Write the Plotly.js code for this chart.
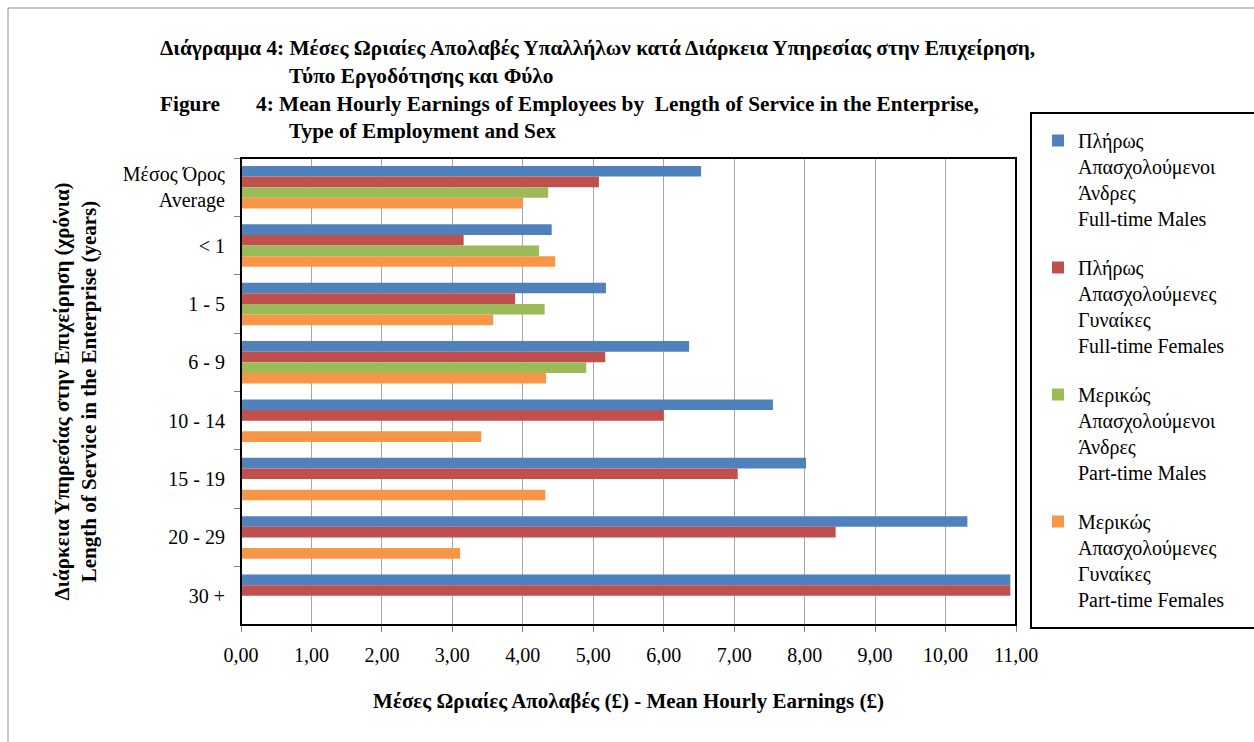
<!DOCTYPE html>
<html>
<head>
<meta charset="utf-8">
<script src="https://cdn.plot.ly/plotly-3.0.1.min.js"></script>
<style>html,body{margin:0;padding:0;background:#fff;}#chart{width:1254px;height:742px;}</style>
</head>
<body>
<div id="chart"></div>
<script>
// Categories (top to bottom)
const categories = ["Μέσος Όρος<br>Average", "< 1", "1 - 5", "6 - 9", "10 - 14", "15 - 19", "20 - 29", "30 +"];

// Series values (mean hourly earnings, £)
const fullTimeMales   = [6.53, 4.41, 5.18, 6.36, 7.55, 8.02, 10.31, 10.92];
const fullTimeFemales = [5.08, 3.16, 3.89, 5.17, 6.00, 7.05, 8.44, 10.92];
const partTimeMales   = [4.36, 4.23, 4.31, 4.90, null, null, null, null];
const partTimeFemales = [4.00, 4.46, 3.58, 4.33, 3.41, 4.32, 3.11, null];

const seriesNames = [
  "Πλήρως<br>Απασχολούμενοι<br>Άνδρες<br>Full-time Males",
  "Πλήρως<br>Απασχολούμενες<br>Γυναίκες<br>Full-time Females",
  "Μερικώς<br>Απασχολούμενοι<br>Άνδρες<br>Part-time Males",
  "Μερικώς<br>Απασχολούμενες<br>Γυναίκες<br>Part-time Females"
];
const seriesValues = [fullTimeMales, fullTimeFemales, partTimeMales, partTimeFemales];
const seriesColors = ["#4F81BD", "#C0504D", "#9BBB59", "#F79646"];

const W = 1254, H = 742;
const L = 241, R = 238, T = 158, B = 117;
const pw = W - L - R, ph = H - T - B;
const px = x => (x - L) / pw;
const py = y => (H - B - y) / ph;

const traces = seriesValues.map((vals, i) => ({
  type: "bar",
  orientation: "h",
  y: categories,
  x: vals,
  name: seriesNames[i],
  legendgroup: "g" + i,
  marker: {color: seriesColors[i], line: {width: 0}},
  hoverinfo: "skip"
}));

const serif = "Liberation Serif, Times New Roman, serif";
const titleFont = {family: serif, size: 21, color: "#000", weight: "bold"};
const mainTitleFont = {family: serif, size: 21.3, color: "#000", weight: "bold"};

const layout = {
  width: W, height: H,
  margin: {l: L, r: R, t: T, b: B, autoexpand: false},
  paper_bgcolor: "#fff",
  plot_bgcolor: "#fff",
  separators: ",.",
  barmode: "group",
  bargap: 0.27,
  bargroupgap: 0,
  font: {family: serif, size: 20, color: "#000"},
  xaxis: {
    range: [0, 11],
    dtick: 1,
    tick0: 0,
    tickformat: ".2f",
    showgrid: true,
    gridcolor: "#A6A6A6",
    gridwidth: 1,
    zeroline: false,
    ticks: "outside",
    ticklen: 6,
    tickcolor: "#808080",
    tickfont: {family: serif, size: 20, color: "#000"},
    ticklabelstandoff: 6,
    showline: false,
    title: {
      text: "Μέσες Ωριαίες Απολαβές (£) - Mean Hourly Earnings (£)",
      font: titleFont,
      standoff: 28
    },
    automargin: false,
    fixedrange: true
  },
  yaxis: {
    type: "category",
    autorange: "reversed",
    ticks: "outside",
    tickson: "boundaries",
    ticklen: 6,
    tickcolor: "#808080",
    showgrid: false,
    zeroline: false,
    showline: false,
    tickfont: {family: serif, size: 20, color: "#000"},
    ticklabelstandoff: 15,
    title: {
      text: "Διάρκεια Υπηρεσίας στην Επιχείρηση (χρόνια)<br>Length of Service in the Enterprise (years)",
      font: titleFont,
      standoff: 20
    },
    automargin: false,
    fixedrange: true
  },
  showlegend: true,
  legend: {
    x: px(1038), y: py(121),
    xanchor: "left", yanchor: "top",
    bgcolor: "rgba(0,0,0,0)",
    borderwidth: 0,
    font: {family: serif, size: 20, color: "#000"},
    valign: "top",
    tracegroupgap: 20,
    traceorder: "grouped",
    maxheight: 700,
    itemclick: false, itemdoubleclick: false
  },
  shapes: [
    // outer chart border
    {type: "rect", xref: "paper", yref: "paper", x0: px(8), x1: px(1262), y0: py(750), y1: py(8),
     line: {color: "#8C8C8C", width: 1}, fillcolor: "rgba(0,0,0,0)", layer: "below"},
    // plot area frame
    {type: "rect", xref: "paper", yref: "paper", x0: 0, x1: 1, y0: 0, y1: 1,
     line: {color: "#000", width: 2}, fillcolor: "rgba(0,0,0,0)"},
    // legend frame
    {type: "rect", xref: "paper", yref: "paper", x0: px(1031), x1: px(1262), y0: py(628), y1: py(113),
     line: {color: "#000", width: 2}, fillcolor: "rgba(0,0,0,0)"}
  ],
  annotations: [
    {text: "Διάγραμμα 4: Μέσες Ωριαίες Απολαβές Υπαλλήλων κατά Διάρκεια Υπηρεσίας στην Επιχείρηση,",
     xref: "paper", yref: "paper", x: px(158), y: py(48), xanchor: "left", yanchor: "middle",
     showarrow: false, font: mainTitleFont},
    {text: "Τύπο Εργοδότησης και Φύλο",
     xref: "paper", yref: "paper", x: px(287), y: py(76), xanchor: "left", yanchor: "middle",
     showarrow: false, font: mainTitleFont},
    {text: "Figure",
     xref: "paper", yref: "paper", x: px(158), y: py(104), xanchor: "left", yanchor: "middle",
     showarrow: false, font: mainTitleFont},
    {text: "4: Mean Hourly Earnings of Employees by  Length of Service in the Enterprise,",
     xref: "paper", yref: "paper", x: px(254), y: py(104), xanchor: "left", yanchor: "middle",
     showarrow: false, font: mainTitleFont},
    {text: "Type of Employment and Sex",
     xref: "paper", yref: "paper", x: px(287), y: py(131), xanchor: "left", yanchor: "middle",
     showarrow: false, font: mainTitleFont}
  ]
};

Plotly.newPlot("chart", traces, layout, {displayModeBar: false, staticPlot: true});
</script>
</body>
</html>
